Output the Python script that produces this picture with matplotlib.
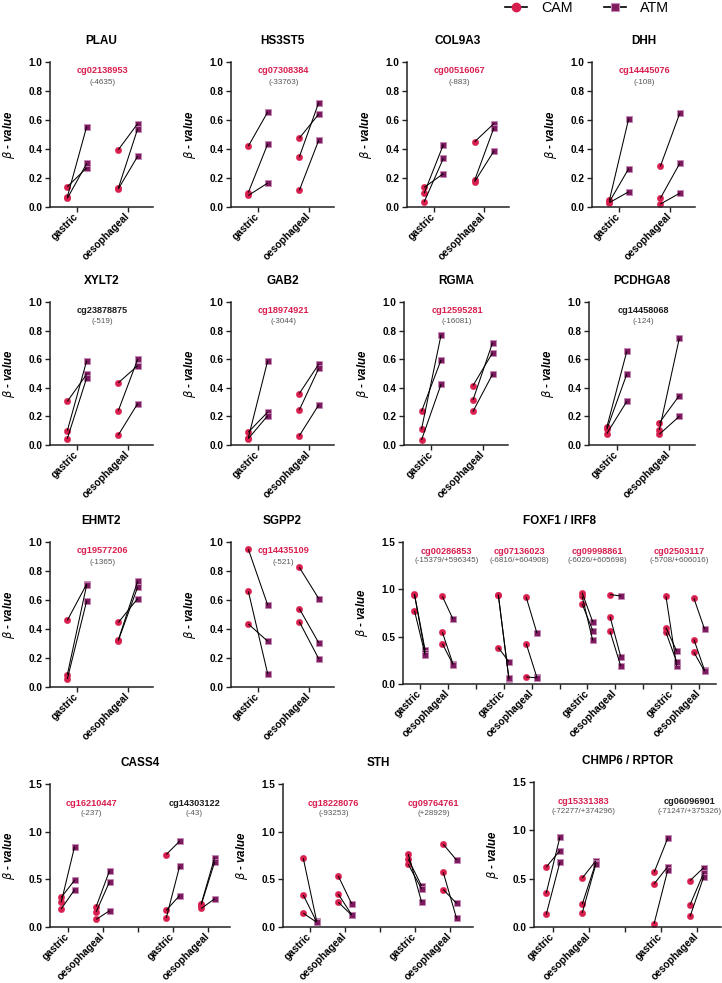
import matplotlib
matplotlib.use("Agg")
import matplotlib.pyplot as plt
from matplotlib.lines import Line2D

plt.rcParams['font.family'] = ['Liberation Sans', 'DejaVu Sans']

# ---------------- data: [gastric, oesophageal] x 3 patients (paired by index) ----
cg02138953_cam = [[0.14, 0.07, 0.06], [0.395, 0.13, 0.125]]
cg02138953_atm = [[0.27, 0.555, 0.30], [0.575, 0.54, 0.35]]
cg07308384_cam = [[0.42, 0.10, 0.08], [0.475, 0.345, 0.115]]
cg07308384_atm = [[0.655, 0.435, 0.165], [0.64, 0.72, 0.46]]
cg00516067_cam = [[0.135, 0.095, 0.035], [0.45, 0.185, 0.175]]
cg00516067_atm = [[0.23, 0.43, 0.335], [0.575, 0.545, 0.385]]
cg14445076_cam = [[0.045, 0.035, 0.03], [0.28, 0.06, 0.02]]
cg14445076_atm = [[0.61, 0.265, 0.105], [0.645, 0.30, 0.095]]
cg23878875_cam = [[0.305, 0.10, 0.045], [0.435, 0.24, 0.07]]
cg23878875_atm = [[0.495, 0.59, 0.47], [0.555, 0.60, 0.29]]
cg18974921_cam = [[0.09, 0.05, 0.045], [0.36, 0.245, 0.065]]
cg18974921_atm = [[0.23, 0.59, 0.205], [0.565, 0.535, 0.28]]
cg12595281_cam = [[0.235, 0.11, 0.035], [0.415, 0.315, 0.235]]
cg12595281_atm = [[0.595, 0.77, 0.425], [0.645, 0.715, 0.495]]
cg14458068_cam = [[0.125, 0.11, 0.08], [0.155, 0.105, 0.075]]
cg14458068_atm = [[0.655, 0.495, 0.305], [0.345, 0.745, 0.20]]
cg19577206_cam = [[0.46, 0.085, 0.055], [0.445, 0.325, 0.32]]
cg19577206_atm = [[0.71, 0.705, 0.595], [0.61, 0.73, 0.69]]
cg14435109_cam = [[0.95, 0.66, 0.435], [0.825, 0.54, 0.45]]
cg14435109_atm = [[0.565, 0.09, 0.315], [0.61, 0.305, 0.195]]
cg00286853_cam = [[0.95, 0.945, 0.775], [0.925, 0.545, 0.425]]
cg00286853_atm = [[0.36, 0.33, 0.31], [0.685, 0.21, 0.205]]
cg07136023_cam = [[0.945, 0.94, 0.385], [0.915, 0.425, 0.075]]
cg07136023_atm = [[0.05, 0.06, 0.235], [0.54, 0.07, 0.065]]
cg09998861_cam = [[0.965, 0.925, 0.845], [0.945, 0.71, 0.555]]
cg09998861_atm = [[0.655, 0.46, 0.565], [0.93, 0.29, 0.19]]
cg02503117_cam = [[0.925, 0.595, 0.545], [0.905, 0.47, 0.335]]
cg02503117_atm = [[0.19, 0.35, 0.235], [0.58, 0.145, 0.135]]
cg16210447_cam = [[0.31, 0.26, 0.19], [0.215, 0.16, 0.08]]
cg16210447_atm = [[0.49, 0.84, 0.39], [0.59, 0.475, 0.17]]
cg14303122_cam = [[0.76, 0.175, 0.095], [0.245, 0.235, 0.195]]
cg14303122_atm = [[0.90, 0.33, 0.635], [0.725, 0.68, 0.295]]
cg18228076_cam = [[0.72, 0.335, 0.145], [0.535, 0.345, 0.26]]
cg18228076_atm = [[0.065, 0.055, 0.05], [0.245, 0.13, 0.125]]
cg09764761_cam = [[0.765, 0.713, 0.657], [0.868, 0.573, 0.393]]
cg09764761_atm = [[0.263, 0.432, 0.40], [0.702, 0.091, 0.249]]
cg15331383_cam = [[0.62, 0.35, 0.13], [0.505, 0.235, 0.145]]
cg15331383_atm = [[0.79, 0.93, 0.67], [0.685, 0.665, 0.65]]
cg06096901_cam = [[0.565, 0.445, 0.035], [0.48, 0.23, 0.11]]
cg06096901_atm = [[0.92, 0.625, 0.59], [0.615, 0.56, 0.52]]

tissues = ["gastric", "oesophageal"]

RED = '#D81E4E'
BLK = '#1a1a1a'
# probe: distance label, label colour, cam, atm, label x-shift (px)
probes = {
    'cg02138953': ('(-4635)', RED, cg02138953_cam, cg02138953_atm, 0),
    'cg07308384': ('(-33763)', RED, cg07308384_cam, cg07308384_atm, 0),
    'cg00516067': ('(-883)', RED, cg00516067_cam, cg00516067_atm, 0),
    'cg14445076': ('(-108)', RED, cg14445076_cam, cg14445076_atm, 0),
    'cg23878875': ('(-519)', BLK, cg23878875_cam, cg23878875_atm, 0),
    'cg18974921': ('(-3044)', RED, cg18974921_cam, cg18974921_atm, 0),
    'cg12595281': ('(-16081)', RED, cg12595281_cam, cg12595281_atm, 0),
    'cg14458068': ('(-124)', BLK, cg14458068_cam, cg14458068_atm, 0),
    'cg19577206': ('(-1365)', RED, cg19577206_cam, cg19577206_atm, 0),
    'cg14435109': ('(-521)', RED, cg14435109_cam, cg14435109_atm, 0),
    'cg00286853': ('(-15379/+596345)', RED, cg00286853_cam, cg00286853_atm, 13),
    'cg07136023': ('(-6816/+604908)', RED, cg07136023_cam, cg07136023_atm, 2),
    'cg09998861': ('(-6026/+605698)', RED, cg09998861_cam, cg09998861_atm, -4),
    'cg02503117': ('(-5708/+606016)', RED, cg02503117_cam, cg02503117_atm, -6),
    'cg16210447': ('(-237)', RED, cg16210447_cam, cg16210447_atm, 6),
    'cg14303122': ('(-43)', BLK, cg14303122_cam, cg14303122_atm, 4),
    'cg18228076': ('(-93253)', RED, cg18228076_cam, cg18228076_atm, 6),
    'cg09764761': ('(+28929)', RED, cg09764761_cam, cg09764761_atm, 1),
    'cg15331383': ('(-72277/+374296)', RED, cg15331383_cam, cg15331383_atm, 12),
    'cg06096901': ('(-71247/+375326)', BLK, cg06096901_cam, cg06096901_atm, 11),
}

# panels: title, probes, pixel box (left, right, top, bottom), xlim
panels = [
    ('PLAU', ['cg02138953'], (50, 153, 62, 207), (-0.53, 1.49)),
    ('HS3ST5', ['cg07308384'], (231, 334, 62, 207), (-0.53, 1.49)),
    ('COL9A3', ['cg00516067'], (407, 509, 62, 207), (-0.53, 1.49)),
    ('DHH', ['cg14445076'], (592, 695, 62, 207), (-0.53, 1.49)),
    ('XYLT2', ['cg23878875'], (50, 153, 302, 445), (-0.53, 1.49)),
    ('GAB2', ['cg18974921'], (231, 334, 302, 445), (-0.53, 1.49)),
    ('RGMA', ['cg12595281'], (404, 508, 302, 445), (-0.53, 1.49)),
    ('PCDHGA8', ['cg14458068'], (589, 695, 302, 445), (-0.53, 1.49)),
    ('EHMT2', ['cg19577206'], (50, 153, 542, 687), (-0.53, 1.49)),
    ('SGPP2', ['cg14435109'], (231, 334, 542, 687), (-0.53, 1.49)),
    ('FOXF1 / IRF8', ['cg00286853', 'cg07136023', 'cg09998861', 'cg02503117'],
     (403, 716, 542, 684), (-0.6, 10.6)),
    ('CASS4', ['cg16210447', 'cg14303122'], (50, 230, 784, 927), (-0.51, 4.63)),
    ('STH', ['cg18228076', 'cg09764761'], (283, 473, 784, 927), (-0.77, 4.66)),
    ('CHMP6 / RPTOR', ['cg15331383', 'cg06096901'], (534, 721, 782, 927), (-0.53, 4.67)),
]

W, H = 722, 983
fig = plt.figure(figsize=(W / 100, H / 100), dpi=100)

CAM_C = '#D81E4E'
ATM_C = '#7E1A60'
ATM_E = '#C58AB6'
OFF = 0.19

for title, plist, (l, r, t, b), xl in panels:
    ax = fig.add_axes([l / W, 1 - b / H, (r - l) / W, (b - t) / H])
    multi = len(plist) > 1
    ymax = 1.5 if multi else 1.0
    ax.set_ylim(0, ymax)
    ax.set_xlim(*xl)
    px_per_unit = (r - l) / (xl[1] - xl[0])
    ticks, labels = [], []
    for k, pname in enumerate(plist):
        dist, col, cam, atm, shift = probes[pname]
        base = 3 * k
        for j in range(2):
            x = base + j
            for c, a in zip(cam[j], atm[j]):
                ax.plot([x - OFF, x + OFF], [c, a], color='black', lw=0.75,
                        zorder=3, clip_on=False, solid_capstyle='butt')
                ax.plot([x - OFF], [c], 'o', color=CAM_C, ms=4.6, mec=CAM_C,
                        mew=0.3, zorder=2, clip_on=False)
                ax.plot([x + OFF], [a], 's', color=ATM_C, ms=4.7, mec=ATM_E,
                        mew=0.6, zorder=2, clip_on=False)
            ticks.append(x)
            labels.append(tissues[j])
        if k < len(plist) - 1:
            ticks.append(base + 2)
            labels.append('')
        if multi:
            if len(plist) == 4:
                ly, dy = 1.40, 1.30
            else:
                ly, dy = 1.30, 1.195
        else:
            ly, dy = 0.938, 0.862
        lx = base + 0.5 + shift / px_per_unit
        ax.text(lx, ly, pname, color=col, fontsize=6.6,
                fontweight='bold', ha='center', va='center')
        ax.text(lx, dy, dist, color='#555555', fontsize=5.8,
                ha='center', va='center')
    ax.set_xticks(ticks)
    ax.set_xticklabels(labels, rotation=45, ha='right', va='center',
                       rotation_mode='anchor', fontsize=7.3, fontweight='bold')
    if multi:
        ax.set_yticks([0, 0.5, 1.0, 1.5])
    else:
        ax.set_yticks([0, 0.2, 0.4, 0.6, 0.8, 1.0])
    ax.set_yticklabels(['%.1f' % v for v in ax.get_yticks()], fontsize=7.2,
                       fontweight='bold')
    ax.tick_params(axis='both', length=3.5, width=1.0, direction='out',
                   pad=2, color='#222222')
    ax.tick_params(axis='x', pad=2)
    for s in ['top', 'right']:
        ax.spines[s].set_visible(False)
    for s in ['left', 'bottom']:
        ax.spines[s].set_linewidth(1.1)
        ax.spines[s].set_color('#222222')
    wpx = r - l
    ax.set_ylabel(r'$\mathit{\beta}$ - value', fontsize=8.3, fontweight='bold',
                  fontstyle='italic')
    ax.yaxis.set_label_coords(-33.0 / wpx, 0.5)
    hpx = b - t
    ax.text(0.5, 1 + 20.5 / hpx, title, transform=ax.transAxes, ha='center',
            va='center', fontsize=8.5, fontweight='bold')

handles = [Line2D([0], [0], color='black', lw=1.2, marker='o', ms=6,
                  mfc=CAM_C, mec=CAM_C),
           Line2D([0], [0], color='black', lw=1.2, marker='s', ms=6,
                  mfc=ATM_C, mec=ATM_E, mew=0.8)]
fig.legend(handles, ['CAM', 'ATM'], loc='center left',
           bbox_to_anchor=(505 / W, 1 - 8 / H), ncol=2, frameon=False,
           fontsize=10.3, handlelength=1.55, handletextpad=0.95,
           columnspacing=2.2, borderpad=0, borderaxespad=0)

fig.savefig('out.png', dpi=100)
